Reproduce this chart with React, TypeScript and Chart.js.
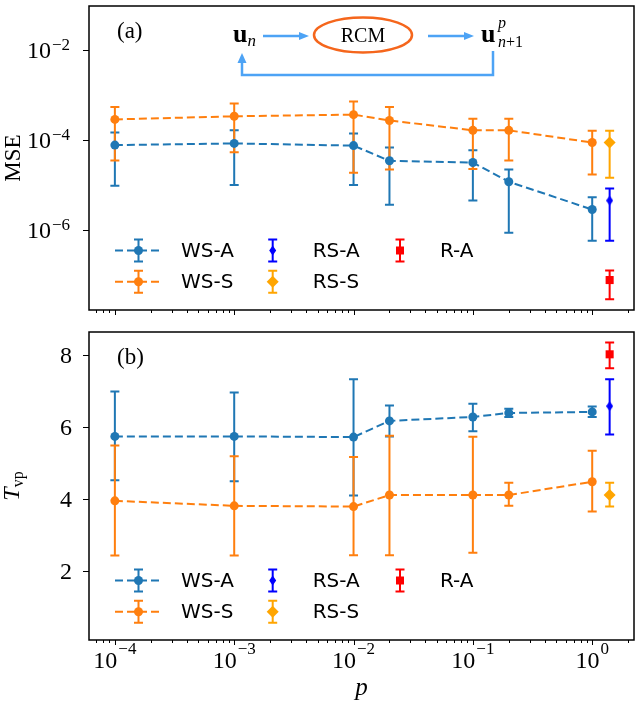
import React, { useEffect, useRef } from "react";
import { Chart, registerables } from "chart.js";
Chart.register(...registerables);

// ---------------- data ----------------
const pWS = [1e-4, 1e-3, 1e-2, 2e-2, 1e-1, 2e-1, 1];
const pRS = [1.4];

// panel (a): MSE
const mseWSA = [7.8e-5, 8.5e-5, 7.6e-5, 3.5e-5, 3.2e-5, 1.2e-5, 2.9e-6];
const mseWSAHi = [1.48e-4, 1.66e-4, 1.41e-4, 6.9e-5, 6.0e-5, 2.24e-5, 5.4e-6];
const mseWSALo = [9.8e-6, 1.02e-5, 1.02e-5, 3.7e-6, 4.6e-6, 8.9e-7, 5.9e-7];
const mseWSS = [2.9e-4, 3.4e-4, 3.7e-4, 2.75e-4, 1.66e-4, 1.66e-4, 8.9e-5];
const mseWSSHi = [5.5e-4, 6.5e-4, 7.2e-4, 5.5e-4, 3.0e-4, 3.0e-4, 1.62e-4];
const mseWSSLo = [3.55e-5, 5.4e-5, 1.9e-5, 2.24e-5, 2.3e-5, 3.55e-5, 1.74e-5];
const mseRSA = [4.6e-6];
const mseRSAHi = [8.5e-6];
const mseRSALo = [5.9e-7];
const mseRSS = [8.9e-5];
const mseRSSHi = [1.62e-4];
const mseRSSLo = [1.48e-5];
const mseRA = [7.9e-8];
const mseRAHi = [1.29e-7];
const mseRALo = [2.95e-8];

// panel (b): T_vp
const tWSA = [5.74, 5.74, 5.72, 6.17, 6.28, 6.39, 6.42];
const tWSAHi = [6.99, 6.96, 7.33, 6.6, 6.65, 6.51, 6.57];
const tWSALo = [4.52, 4.49, 4.1, 5.74, 5.88, 6.28, 6.28];
const tWSS = [3.95, 3.81, 3.79, 4.11, 4.11, 4.11, 4.48];
const tWSSHi = [5.49, 5.19, 5.17, 5.76, 5.73, 4.45, 5.34];
const tWSSLo = [2.43, 2.43, 2.44, 2.44, 2.51, 3.81, 3.65];
const tRSA = [6.58];
const tRSAHi = [7.33];
const tRSALo = [5.79];
const tRSS = [4.11];
const tRSSHi = [4.45];
const tRSSLo = [3.79];
const tRA = [8.02];
const tRAHi = [8.35];
const tRALo = [7.63];

// axes
const xMin = 6.07e-5;
const xMax = 2.24;
const xTickExps = [-4, -3, -2, -1, 0];
const mseMin = 1.71e-8;
const mseMax = 0.0953;
const mseTickExps = [-2, -4, -6];
const tMin = 0.083;
const tMax = 8.64;
const tTicks = [2, 4, 6, 8];
const labels = ["WS-A", "WS-S", "RS-A", "RS-S", "R-A"];

// ---------------- styles ----------------
const C0 = "#1f77b4";
const C1 = "#ff7f0e";
const BLUE = "#0000ff";
const ORANGE = "#ffa500";
const RED = "#ff0000";
const SERIF = "'Liberation Serif', 'DejaVu Serif', serif";
const SANS = "'DejaVu Sans', sans-serif";
const ARROW = "#4da3f5";
const ELLIPSE = "#f5661c";

function thinDiamond(color: string, w: number, h: number) {
  const c = document.createElement("canvas");
  c.width = w;
  c.height = h;
  const g = c.getContext("2d")!;
  g.fillStyle = color;
  g.beginPath();
  g.moveTo(w / 2, 0);
  g.lineTo(w, h / 2);
  g.lineTo(w / 2, h);
  g.lineTo(0, h / 2);
  g.closePath();
  g.fill();
  return c;
}

function series(label: string, xs: number[], ys: number[], lo: number[], hi: number[], color: string, style: any, radius: number, showLine: boolean) {
  return {
    label,
    data: xs.map((x, i) => ({ x, y: ys[i] })),
    errLo: lo,
    errHi: hi,
    borderColor: color,
    backgroundColor: color,
    pointBackgroundColor: color,
    pointBorderColor: color,
    pointBorderWidth: 0,
    pointStyle: style,
    pointRadius: radius,
    showLine,
    borderDash: [8, 4],
    borderWidth: 2,
    fill: false,
    tension: 0,
  };
}

type Run = { t: string; font: string; dy?: number; dx?: number };
function drawRuns(ctx: CanvasRenderingContext2D, runs: Run[], x: number, y: number, align: "left" | "center" | "right") {
  ctx.textAlign = "left";
  ctx.textBaseline = "alphabetic";
  let total = 0;
  const ws = runs.map((r) => {
    ctx.font = r.font;
    const w = ctx.measureText(r.t).width + (r.dx || 0);
    total += w;
    return w;
  });
  let cx = align === "left" ? x : align === "center" ? x - total / 2 : x - total;
  runs.forEach((r, i) => {
    ctx.font = r.font;
    ctx.fillText(r.t, cx + (r.dx || 0), y + (r.dy || 0));
    cx += ws[i];
  });
}

function drawMarker(ctx: CanvasRenderingContext2D, kind: string, x: number, y: number, color: string) {
  ctx.fillStyle = color;
  ctx.beginPath();
  if (kind === "circle") {
    ctx.arc(x, y, 4.5, 0, Math.PI * 2);
  } else if (kind === "diamond") {
    ctx.moveTo(x, y - 6);
    ctx.lineTo(x + 6, y);
    ctx.lineTo(x, y + 6);
    ctx.lineTo(x - 6, y);
    ctx.closePath();
  } else if (kind === "thin") {
    ctx.moveTo(x, y - 5);
    ctx.lineTo(x + 3.5, y);
    ctx.lineTo(x, y + 5);
    ctx.lineTo(x - 3.5, y);
    ctx.closePath();
  } else {
    ctx.rect(x - 4, y - 4, 8, 8);
  }
  ctx.fill();
}

function errBar(ctx: CanvasRenderingContext2D, x: number, y1: number, y2: number, color: string) {
  ctx.strokeStyle = color;
  ctx.lineWidth = 2;
  ctx.setLineDash([]);
  ctx.beginPath();
  ctx.moveTo(x, y1);
  ctx.lineTo(x, y2);
  ctx.moveTo(x - 4.5, y1);
  ctx.lineTo(x + 4.5, y1);
  ctx.moveTo(x - 4.5, y2);
  ctx.lineTo(x + 4.5, y2);
  ctx.stroke();
}

const kinds = ["circle", "circle", "thin", "diamond", "square"];

function panelPlugin(panel: "a" | "b") {
  return {
    id: "panel" + panel,
    beforeDatasetsDraw(chart: any) {
      const ctx = chart.ctx as CanvasRenderingContext2D;
      const xs = chart.scales.x;
      const ys = chart.scales.y;
      ctx.save();
      chart.data.datasets.forEach((ds: any) => {
        ds.data.forEach((pt: any, i: number) => {
          errBar(ctx, xs.getPixelForValue(pt.x), ys.getPixelForValue(ds.errHi[i]), ys.getPixelForValue(ds.errLo[i]), ds.borderColor);
        });
      });
      ctx.restore();
    },
    afterDraw(chart: any) {
      const ctx = chart.ctx as CanvasRenderingContext2D;
      const a = chart.chartArea;
      const xs = chart.scales.x;
      const ys = chart.scales.y;
      ctx.save();
      ctx.setLineDash([]);
      // frame
      ctx.strokeStyle = "#000";
      ctx.lineWidth = 1.5;
      ctx.strokeRect(a.left, a.top, a.right - a.left, a.bottom - a.top);
      // x ticks
      ctx.lineWidth = 1;
      ctx.beginPath();
      for (let k = -5; k <= 0; k++) {
        for (let m = 1; m <= 9; m++) {
          const v = m * Math.pow(10, k);
          if (v < xMin || v > xMax) continue;
          const px = Math.round(xs.getPixelForValue(v)) + 0.5;
          ctx.moveTo(px, a.bottom);
          ctx.lineTo(px, a.bottom + (m === 1 ? 5 : 3));
        }
      }
      ctx.stroke();
      // y ticks
      const yVals = panel === "a" ? mseTickExps.map((e) => Math.pow(10, e)) : tTicks;
      ctx.beginPath();
      yVals.forEach((v) => {
        const py = Math.round(ys.getPixelForValue(v)) + 0.5;
        ctx.moveTo(a.left - 6, py);
        ctx.lineTo(a.left, py);
      });
      ctx.stroke();
      ctx.fillStyle = "#000";
      // y tick labels
      if (panel === "a") {
        mseTickExps.forEach((e) => {
          const py = ys.getPixelForValue(Math.pow(10, e));
          drawRuns(ctx, [
            { t: "10", font: `24px ${SERIF}`, dy: 8 },
            { t: "\u2212" + Math.abs(e), font: `17px ${SERIF}`, dy: 0, dx: 1 },
          ], a.left - 19, py, "right");
        });
      } else {
        tTicks.forEach((v) => {
          const py = ys.getPixelForValue(v);
          drawRuns(ctx, [{ t: String(v), font: `24px ${SERIF}`, dy: 8 }], a.left - 17, py, "right");
        });
        // x tick labels
        xTickExps.forEach((e) => {
          const px = xs.getPixelForValue(Math.pow(10, e));
          drawRuns(ctx, [
            { t: "10", font: `24px ${SERIF}`, dy: 0 },
            { t: (e < 0 ? "\u2212" : "") + Math.abs(e), font: `17px ${SERIF}`, dy: -14, dx: 1 },
          ], px, a.bottom + 28, "center");
        });
        drawRuns(ctx, [{ t: "p", font: `italic 25px ${SERIF}` }], (a.left + a.right) / 2, a.bottom + 55, "center");
      }
      // y axis title
      ctx.save();
      ctx.translate(12, (a.top + a.bottom) / 2);
      ctx.rotate(-Math.PI / 2);
      if (panel === "a") {
        drawRuns(ctx, [{ t: "MSE", font: `23px ${SERIF}` }], 0, 8, "center");
      } else {
        drawRuns(ctx, [
          { t: "T", font: `italic 24px ${SERIF}` },
          { t: "vp", font: `16px ${SERIF}`, dy: 4 },
        ], 0, 7, "center");
      }
      ctx.restore();
      // panel tag
      ctx.fillStyle = "#000";
      drawRuns(ctx, [{ t: panel === "a" ? "(a)" : "(b)", font: `23px ${SERIF}` }], a.left + 28, a.top + 32, "left");
      // legend
      const colX = [49.5, 183.7, 311];
      const textX = [92, 223.7, 351];
      const rowY = [a.bottom - 59.5, a.bottom - 28.3];
      const colors = [C0, C1, BLUE, ORANGE, RED];
      labels.forEach((lab, i) => {
        const col = Math.floor(i / 2);
        const row = i % 2;
        const hx = a.left + colX[col];
        const hy = rowY[row];
        if (col === 0) {
          ctx.strokeStyle = colors[i];
          ctx.lineWidth = 2;
          ctx.setLineDash([8, 4]);
          ctx.beginPath();
          ctx.moveTo(hx - 23.5, hy);
          ctx.lineTo(hx + 23.5, hy);
          ctx.stroke();
          ctx.setLineDash([]);
        }
        errBar(ctx, hx, hy - 11, hy + 11, colors[i]);
        drawMarker(ctx, kinds[i], hx, hy, colors[i]);
        ctx.fillStyle = "#000";
        ctx.font = `20px ${SANS}`;
        ctx.textAlign = "left";
        ctx.textBaseline = "middle";
        ctx.fillText(lab, a.left + textX[col], hy + 1);
      });
      // inset diagram
      if (panel === "a") {
        const ox = a.left - 89;
        const oy = a.top - 2;
        ctx.strokeStyle = ARROW;
        ctx.fillStyle = ARROW;
        ctx.lineWidth = 2.5;
        const arrowH = (x1: number, x2: number, y: number) => {
          ctx.beginPath();
          ctx.moveTo(x1, y);
          ctx.lineTo(x2 - 8, y);
          ctx.stroke();
          ctx.beginPath();
          ctx.moveTo(x2, y);
          ctx.lineTo(x2 - 10, y - 4);
          ctx.lineTo(x2 - 10, y + 4);
          ctx.closePath();
          ctx.fill();
        };
        arrowH(ox + 263, ox + 309, oy + 32);
        arrowH(ox + 428, ox + 474, oy + 32);
        ctx.beginPath();
        ctx.moveTo(ox + 493, oy + 47);
        ctx.lineTo(ox + 493, oy + 71);
        ctx.lineTo(ox + 242, oy + 71);
        ctx.lineTo(ox + 242, oy + 58);
        ctx.stroke();
        ctx.beginPath();
        ctx.moveTo(ox + 242, oy + 49);
        ctx.lineTo(ox + 237.5, oy + 59);
        ctx.lineTo(ox + 246.5, oy + 59);
        ctx.closePath();
        ctx.fill();
        ctx.strokeStyle = ELLIPSE;
        ctx.lineWidth = 2.5;
        ctx.beginPath();
        ctx.ellipse(ox + 363, oy + 31, 49, 17.5, 0, 0, Math.PI * 2);
        ctx.stroke();
        ctx.fillStyle = "#000";
        drawRuns(ctx, [{ t: "RCM", font: `20px ${SERIF}` }], ox + 363, oy + 38, "center");
        drawRuns(ctx, [
          { t: "u", font: `bold 26px ${SERIF}` },
          { t: "n", font: `italic 17px ${SERIF}`, dy: 4 },
        ], ox + 233, oy + 38, "left");
        drawRuns(ctx, [{ t: "u", font: `bold 26px ${SERIF}` }], ox + 481, oy + 38, "left");
        drawRuns(ctx, [{ t: "p", font: `italic 16px ${SERIF}` }], ox + 498, oy + 24, "left");
        drawRuns(ctx, [
          { t: "n", font: `italic 16px ${SERIF}` },
          { t: "+1", font: `16px ${SERIF}` },
        ], ox + 498, oy + 43, "left");
      }
      ctx.restore();
    },
  };
}

function makeChart(canvas: HTMLCanvasElement, panel: "a" | "b") {
  const isA = panel === "a";
  const thin = thinDiamond(BLUE, 7, 10);
  const xsRS = pRS;
  const datasets = isA
    ? [
        series("WS-A", pWS, mseWSA, mseWSALo, mseWSAHi, C0, "circle", 4.5, true),
        series("WS-S", pWS, mseWSS, mseWSSLo, mseWSSHi, C1, "circle", 4.5, true),
        series("RS-A", xsRS, mseRSA, mseRSALo, mseRSAHi, BLUE, thin, 5, false),
        series("RS-S", xsRS, mseRSS, mseRSSLo, mseRSSHi, ORANGE, "rectRot", 6, false),
        series("R-A", xsRS, mseRA, mseRALo, mseRAHi, RED, "rect", 5.7, false),
      ]
    : [
        series("WS-A", pWS, tWSA, tWSALo, tWSAHi, C0, "circle", 4.5, true),
        series("WS-S", pWS, tWSS, tWSSLo, tWSSHi, C1, "circle", 4.5, true),
        series("RS-A", xsRS, tRSA, tRSALo, tRSAHi, BLUE, thin, 5, false),
        series("RS-S", xsRS, tRSS, tRSSLo, tRSSHi, ORANGE, "rectRot", 6, false),
        series("R-A", xsRS, tRA, tRALo, tRAHi, RED, "rect", 5.7, false),
      ];
  return new Chart(canvas, {
    type: "line",
    data: { datasets: datasets as any },
    options: {
      responsive: false,
      animation: false,
      devicePixelRatio: 1,
      layout: { padding: { top: isA ? 2 : 12, right: 3, left: 0, bottom: 0 } },
      plugins: { legend: { display: false }, tooltip: { enabled: false } },
      scales: {
        x: {
          type: "logarithmic",
          min: xMin,
          max: xMax,
          ticks: { display: false },
          grid: { display: false },
          border: { display: false },
          afterFit: (s: any) => {
            s.height = isA ? 10 : 63;
          },
        },
        y: {
          type: isA ? "logarithmic" : "linear",
          min: isA ? mseMin : tMin,
          max: isA ? mseMax : tMax,
          ticks: { display: false },
          grid: { display: false },
          border: { display: false },
          afterFit: (s: any) => {
            s.width = 89;
          },
        },
      } as any,
    },
    plugins: [panelPlugin(panel)],
  });
}

export default function App() {
  const refA = useRef<HTMLCanvasElement>(null);
  const refB = useRef<HTMLCanvasElement>(null);
  useEffect(() => {
    const ca = makeChart(refA.current!, "a");
    const cb = makeChart(refB.current!, "b");
    return () => {
      ca.destroy();
      cb.destroy();
    };
  }, []);
  return (
    <div style={{ position: "fixed", left: 0, top: 0, width: 640, height: 703, background: "#fff" }}>
      <canvas ref={refA} width={640} height={320} style={{ position: "absolute", left: 0, top: 0, width: 640, height: 320 }} />
      <canvas ref={refB} width={640} height={383} style={{ position: "absolute", left: 0, top: 320, width: 640, height: 383 }} />
    </div>
  );
}
